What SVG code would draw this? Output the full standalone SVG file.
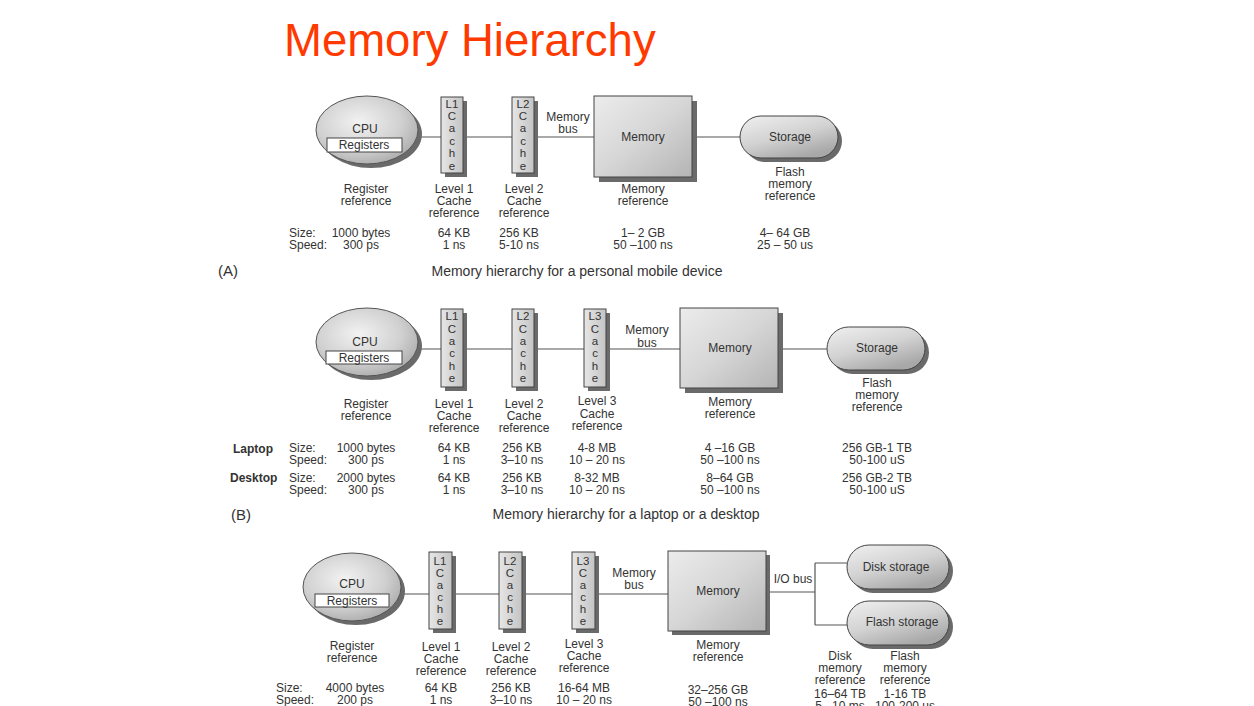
<svg xmlns="http://www.w3.org/2000/svg" width="1254" height="706" viewBox="0 0 1254 706">
  <defs>
    <radialGradient id="gCpu" cx="0.42" cy="0.38" r="0.7">
      <stop offset="0" stop-color="#f2f2f2"/>
      <stop offset="0.6" stop-color="#d0d0d0"/>
      <stop offset="1" stop-color="#a6a6a6"/>
    </radialGradient>
    <linearGradient id="gBox" x1="0" y1="0" x2="1" y2="1">
      <stop offset="0" stop-color="#ececec"/>
      <stop offset="0.5" stop-color="#d6d6d6"/>
      <stop offset="1" stop-color="#b4b4b4"/>
    </linearGradient>
    <linearGradient id="gPill" x1="0" y1="0" x2="0.6" y2="1">
      <stop offset="0" stop-color="#f0f0f0"/>
      <stop offset="0.55" stop-color="#d2d2d2"/>
      <stop offset="1" stop-color="#a8a8a8"/>
    </linearGradient>
    <linearGradient id="gCache" x1="0" y1="0" x2="1" y2="0">
      <stop offset="0" stop-color="#e6e6e6"/>
      <stop offset="1" stop-color="#c4c4c4"/>
    </linearGradient>
  </defs>
  <style>
    text { font-family: "Liberation Sans", Arial, Helvetica, sans-serif; font-size: 12px; fill: #333; text-anchor: middle; }
    .l { text-anchor: start; }
    .b { font-weight: bold; }
    .cap { font-size: 14px; }
    .tag { font-size: 15px; text-anchor: start; }
    .title { font-size: 45.5px; fill: #ff3a00; text-anchor: start; }
    .lt { font-size: 11.5px; }
    .sh { fill: #6a6a6a; }
    .cpu { fill: url(#gCpu); stroke: #555; stroke-width: 1; }
    .reg { fill: #fff; stroke: #444; stroke-width: 1; }
    .box { fill: url(#gBox); stroke: #444; stroke-width: 1; }
    .pill { fill: url(#gPill); stroke: #444; stroke-width: 1; }
    .cache { fill: url(#gCache); stroke: #444; stroke-width: 1; }
    .wire { fill: none; stroke: #555; stroke-width: 1.2; }
  </style>

  <rect width="1254" height="706" fill="#fff"/>
  <text class="title" x="284" y="56">Memory Hierarchy</text>

  <!-- ===== connectors ===== -->
  <g id="connectors" class="wire">
    <!-- (A) -->
    <path d="M418 137H441M463 137H512M534 137H594M692 137H740"/>
    <!-- (B) -->
    <path d="M418 349H441M463 349H512M534 349H584M606 349H680M778 349H827"/>
    <!-- (C) -->
    <path d="M401 594H429M452 594H499M522 594H572M595 594H668"/>
    <path d="M766 592H815M815 563V625M815 563H847M815 625H847"/>
  </g>

  <!-- ===== (A) personal mobile device ===== -->
  <g id="a-cpu">
    <ellipse class="sh" cx="371" cy="134" rx="51" ry="34"/>
    <ellipse class="cpu" cx="367" cy="130" rx="51" ry="34"/>
    <rect class="reg" x="327" y="138" width="75" height="14"/>
    <text x="365" y="133">CPU</text>
    <text x="364" y="149">Registers</text>
  </g>
  <g id="a-l1">
    <rect class="sh" x="445" y="101" width="22" height="76"/>
    <rect class="cache" x="441" y="97" width="22" height="76"/>
    <text class="lt" x="452" y="108">L1</text><text class="lt" x="452" y="120">C</text><text class="lt" x="452" y="132">a</text>
    <text class="lt" x="452" y="145">c</text><text class="lt" x="452" y="157">h</text><text class="lt" x="452" y="170">e</text>
  </g>
  <g id="a-l2">
    <rect class="sh" x="516" y="101" width="22" height="76"/>
    <rect class="cache" x="512" y="97" width="22" height="76"/>
    <text class="lt" x="523" y="108">L2</text><text class="lt" x="523" y="120">C</text><text class="lt" x="523" y="132">a</text>
    <text class="lt" x="523" y="145">c</text><text class="lt" x="523" y="157">h</text><text class="lt" x="523" y="170">e</text>
  </g>
  <g id="a-membus">
    <text x="568" y="121">Memory</text><text x="568" y="133">bus</text>
  </g>
  <g id="a-memory">
    <rect class="sh" x="599" y="101" width="98" height="81"/>
    <rect class="box" x="594" y="96" width="98" height="81"/>
    <text x="643" y="141">Memory</text>
  </g>
  <g id="a-storage">
    <rect class="sh" x="744" y="120" width="98" height="42" rx="21"/>
    <rect class="pill" x="740" y="116" width="98" height="42" rx="21"/>
    <text x="790" y="141">Storage</text>
  </g>
  <g id="a-labels">
    <text x="366" y="193">Register</text><text x="366" y="205">reference</text>
    <text x="454" y="193">Level 1</text><text x="454" y="205">Cache</text><text x="454" y="217">reference</text>
    <text x="524" y="193">Level 2</text><text x="524" y="205">Cache</text><text x="524" y="217">reference</text>
    <text x="643" y="193">Memory</text><text x="643" y="205">reference</text>
    <text x="790" y="176">Flash</text><text x="790" y="188">memory</text><text x="790" y="200">reference</text>
    <text class="l" x="289" y="237">Size:</text><text class="l" x="289" y="249">Speed:</text>
    <text x="361" y="237">1000 bytes</text><text x="361" y="249">300 ps</text>
    <text x="454" y="237">64 KB</text><text x="454" y="249">1 ns</text>
    <text x="519" y="237">256 KB</text><text x="519" y="249">5-10 ns</text>
    <text x="643" y="237">1– 2 GB</text><text x="643" y="249">50 –100 ns</text>
    <text x="785" y="237">4– 64 GB</text><text x="785" y="249">25 – 50 us</text>
    <text class="tag" x="218" y="276">(A)</text>
    <text class="cap" x="577" y="276">Memory hierarchy for a personal mobile device</text>
  </g>

  <!-- ===== (B) laptop or desktop ===== -->
  <g id="b-cpu">
    <ellipse class="sh" cx="371" cy="346" rx="51" ry="34"/>
    <ellipse class="cpu" cx="367" cy="342" rx="51" ry="34"/>
    <rect class="reg" x="326" y="351" width="76" height="13"/>
    <text x="365" y="346">CPU</text>
    <text x="364" y="362">Registers</text>
  </g>
  <g id="b-l1">
    <rect class="sh" x="445" y="313" width="22" height="78"/>
    <rect class="cache" x="441" y="309" width="22" height="78"/>
    <text class="lt" x="452" y="320">L1</text><text class="lt" x="452" y="333">C</text><text class="lt" x="452" y="345">a</text>
    <text class="lt" x="452" y="357">c</text><text class="lt" x="452" y="370">h</text><text class="lt" x="452" y="382">e</text>
  </g>
  <g id="b-l2">
    <rect class="sh" x="516" y="313" width="22" height="78"/>
    <rect class="cache" x="512" y="309" width="22" height="78"/>
    <text class="lt" x="523" y="320">L2</text><text class="lt" x="523" y="333">C</text><text class="lt" x="523" y="345">a</text>
    <text class="lt" x="523" y="357">c</text><text class="lt" x="523" y="370">h</text><text class="lt" x="523" y="382">e</text>
  </g>
  <g id="b-l3">
    <rect class="sh" x="588" y="313" width="22" height="78"/>
    <rect class="cache" x="584" y="309" width="22" height="78"/>
    <text class="lt" x="595" y="320">L3</text><text class="lt" x="595" y="333">C</text><text class="lt" x="595" y="345">a</text>
    <text class="lt" x="595" y="357">c</text><text class="lt" x="595" y="370">h</text><text class="lt" x="595" y="382">e</text>
  </g>
  <g id="b-membus">
    <text x="647" y="334">Memory</text><text x="647" y="347">bus</text>
  </g>
  <g id="b-memory">
    <rect class="sh" x="685" y="313" width="98" height="80"/>
    <rect class="box" x="680" y="308" width="98" height="80"/>
    <text x="730" y="352">Memory</text>
  </g>
  <g id="b-storage">
    <rect class="sh" x="831" y="331" width="98" height="43" rx="21.5"/>
    <rect class="pill" x="827" y="327" width="98" height="43" rx="21.5"/>
    <text x="877" y="352">Storage</text>
  </g>
  <g id="b-labels">
    <text x="366" y="408">Register</text><text x="366" y="420">reference</text>
    <text x="454" y="408">Level 1</text><text x="454" y="420">Cache</text><text x="454" y="432">reference</text>
    <text x="524" y="408">Level 2</text><text x="524" y="420">Cache</text><text x="524" y="432">reference</text>
    <text x="597" y="405">Level 3</text><text x="597" y="418">Cache</text><text x="597" y="430">reference</text>
    <text x="730" y="406">Memory</text><text x="730" y="418">reference</text>
    <text x="877" y="387">Flash</text><text x="877" y="399">memory</text><text x="877" y="411">reference</text>
    <text class="l b" x="233" y="453">Laptop</text>
    <text class="l b" x="230" y="482">Desktop</text>
    <text class="l" x="289" y="452">Size:</text><text class="l" x="289" y="464">Speed:</text>
    <text class="l" x="289" y="482">Size:</text><text class="l" x="289" y="494">Speed:</text>
    <text x="366" y="452">1000 bytes</text><text x="366" y="464">300 ps</text>
    <text x="366" y="482">2000 bytes</text><text x="366" y="494">300 ps</text>
    <text x="454" y="452">64 KB</text><text x="454" y="464">1 ns</text>
    <text x="454" y="482">64 KB</text><text x="454" y="494">1 ns</text>
    <text x="522" y="452">256 KB</text><text x="522" y="464">3–10 ns</text>
    <text x="522" y="482">256 KB</text><text x="522" y="494">3–10 ns</text>
    <text x="597" y="452">4-8 MB</text><text x="597" y="464">10 – 20 ns</text>
    <text x="597" y="482">8-32  MB</text><text x="597" y="494">10 – 20 ns</text>
    <text x="730" y="452">4 –16 GB</text><text x="730" y="464">50 –100 ns</text>
    <text x="730" y="482">8–64 GB</text><text x="730" y="494">50 –100 ns</text>
    <text x="877" y="452">256 GB-1 TB</text><text x="877" y="464">50-100 uS</text>
    <text x="877" y="482">256 GB-2 TB</text><text x="877" y="494">50-100 uS</text>
    <text class="tag" x="231" y="520">(B)</text>
    <text class="cap" x="626" y="519">Memory hierarchy for a laptop or a desktop</text>
  </g>

  <!-- ===== (C) server ===== -->
  <g id="c-cpu">
    <ellipse class="sh" cx="356" cy="591" rx="49" ry="34"/>
    <ellipse class="cpu" cx="352" cy="587" rx="49" ry="34"/>
    <rect class="reg" x="315" y="594" width="74" height="13"/>
    <text x="352" y="588">CPU</text>
    <text x="352" y="605">Registers</text>
  </g>
  <g id="c-l1">
    <rect class="sh" x="433" y="556" width="23" height="77"/>
    <rect class="cache" x="429" y="552" width="23" height="77"/>
    <text class="lt" x="440" y="565">L1</text><text class="lt" x="440" y="577">C</text><text class="lt" x="440" y="589">a</text>
    <text class="lt" x="440" y="601">c</text><text class="lt" x="440" y="613">h</text><text class="lt" x="440" y="625">e</text>
  </g>
  <g id="c-l2">
    <rect class="sh" x="503" y="556" width="23" height="77"/>
    <rect class="cache" x="499" y="552" width="23" height="77"/>
    <text class="lt" x="510" y="565">L2</text><text class="lt" x="510" y="577">C</text><text class="lt" x="510" y="589">a</text>
    <text class="lt" x="510" y="601">c</text><text class="lt" x="510" y="613">h</text><text class="lt" x="510" y="625">e</text>
  </g>
  <g id="c-l3">
    <rect class="sh" x="576" y="556" width="23" height="77"/>
    <rect class="cache" x="572" y="552" width="23" height="77"/>
    <text class="lt" x="583" y="565">L3</text><text class="lt" x="583" y="577">C</text><text class="lt" x="583" y="589">a</text>
    <text class="lt" x="583" y="601">c</text><text class="lt" x="583" y="613">h</text><text class="lt" x="583" y="625">e</text>
  </g>
  <g id="c-membus">
    <text x="634" y="577">Memory</text><text x="634" y="589">bus</text>
  </g>
  <g id="c-memory">
    <rect class="sh" x="672" y="555" width="98" height="80"/>
    <rect class="box" x="668" y="551" width="98" height="80"/>
    <text x="718" y="595">Memory</text>
  </g>
  <g id="c-iobus">
    <text x="793" y="583">I/O bus</text>
  </g>
  <g id="c-disk">
    <rect class="sh" x="851" y="549" width="102" height="44" rx="22"/>
    <rect class="pill" x="847" y="545" width="102" height="44" rx="22"/>
    <text x="896" y="571">Disk storage</text>
  </g>
  <g id="c-flash">
    <rect class="sh" x="851" y="605" width="102" height="44" rx="22"/>
    <rect class="pill" x="847" y="601" width="102" height="44" rx="22"/>
    <text x="902" y="626">Flash storage</text>
  </g>
  <g id="c-labels">
    <text x="352" y="650">Register</text><text x="352" y="662">reference</text>
    <text x="441" y="651">Level 1</text><text x="441" y="663">Cache</text><text x="441" y="675">reference</text>
    <text x="511" y="651">Level 2</text><text x="511" y="663">Cache</text><text x="511" y="675">reference</text>
    <text x="584" y="648">Level 3</text><text x="584" y="660">Cache</text><text x="584" y="672">reference</text>
    <text x="718" y="649">Memory</text><text x="718" y="661">reference</text>
    <text x="840" y="660">Disk</text><text x="840" y="672">memory</text><text x="840" y="684">reference</text>
    <text x="905" y="660">Flash</text><text x="905" y="672">memory</text><text x="905" y="684">reference</text>
    <!-- bottom row runs past the lower edge of the figure -->
    <text class="l" x="276" y="692">Size:</text><text class="l" x="276" y="704">Speed:</text>
    <text x="355" y="692">4000 bytes</text><text x="355" y="704">200 ps</text>
    <text x="441" y="692">64 KB</text><text x="441" y="704">1 ns</text>
    <text x="511" y="692">256 KB</text><text x="511" y="704">3–10 ns</text>
    <text x="584" y="692">16-64 MB</text><text x="584" y="704">10 – 20 ns</text>
    <text x="718" y="694">32–256 GB</text><text x="718" y="706">50 –100 ns</text>
    <text x="840" y="698">16–64 TB</text><text x="840" y="710">5 –10 ms</text>
    <text x="905" y="698">1-16 TB</text><text x="905" y="710">100-200 us</text>
  </g>
</svg>
